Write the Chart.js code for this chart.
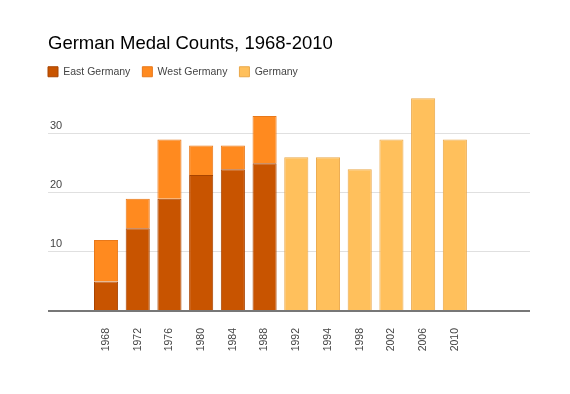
<!DOCTYPE html>
<html>
<head>
<meta charset="utf-8">
<script src="https://cdn.jsdelivr.net/npm/chart.js@4"></script>
<style>
  body { margin: 0; background: #fff; }
  canvas { display: block; }
</style>
</head>
<body>
<canvas id="chart" width="570" height="394"></canvas>
<script>
const years = ['1968', '1972', '1976', '1980', '1984', '1988', '1992', '1994', '1998', '2002', '2006', '2010'];
const eastGermany = [5, 14, 19, 23, 24, 25, null, null, null, null, null, null];
const westGermany = [7, 5, 10, 5, 4, 8, null, null, null, null, null, null];
const germany = [null, null, null, null, null, null, 26, 26, 24, 29, 36, 29];
const yTicks = [0, 10, 20, 30];

const font = "'Liberation Sans', Arial, sans-serif";

const toPoints = values => values.map((v, i) => ({ x: i, y: v }));

// pull the legend back to the title's left edge
const legendShift = {
    id: 'legendShift',
    afterLayout(chart) {
        chart.legend.left -= 12;
        chart.legend.right -= 12;
    }
};

new Chart(document.getElementById('chart'), {
    type: 'bar',
    data: {
        datasets: [{
            label: 'East Germany',
            data: toPoints(eastGermany),
            backgroundColor: '#c85400',
            borderColor: '#a84400',
            borderWidth: 1
        }, {
            label: 'West Germany',
            data: toPoints(westGermany),
            backgroundColor: '#ff8a1f',
            borderColor: '#e8781a',
            borderWidth: 1
        }, {
            label: 'Germany',
            data: toPoints(germany),
            backgroundColor: '#ffc05c',
            borderColor: '#eaa84a',
            borderWidth: 1
        }]
    },
    options: {
        responsive: false,
        animation: false,
        barPercentage: 0.76,
        categoryPercentage: 1,
        layout: {
            padding: { left: 48, right: 40, top: 0, bottom: 0 }
        },
        scales: {
            x: {
                type: 'linear',
                stacked: true,
                offset: false,
                min: -1.83,
                max: 13.37,
                afterBuildTicks: scale => {
                    scale.ticks = years.map((_, i) => ({ value: i }));
                },
                afterFit: scale => {
                    scale.height = 83;
                },
                grid: { display: false },
                border: { display: false },
                ticks: {
                    autoSkip: false,
                    minRotation: 90,
                    maxRotation: 90,
                    padding: 9,
                    color: '#444',
                    font: { family: font, size: 10.5 },
                    callback: value => years[value]
                }
            },
            y: {
                stacked: true,
                min: 0,
                max: 37.9,
                afterBuildTicks: scale => {
                    scale.ticks = yTicks.map(v => ({ value: v }));
                },
                afterFit: scale => {
                    scale.width = 0;
                },
                border: { display: false },
                grid: {
                    drawTicks: false,
                    color: ctx => ctx.tick.value === 0 ? '#777' : '#e0e0e0',
                    lineWidth: ctx => ctx.tick.value === 0 ? 2 : 1
                },
                ticks: {
                    mirror: true,
                    padding: 2,
                    labelOffset: -8,
                    color: '#444',
                    font: { family: font, size: 11 },
                    callback: value => value === 0 ? '' : value
                }
            }
        },
        plugins: {
            title: {
                display: true,
                text: 'German Medal Counts, 1968-2010',
                align: 'start',
                color: '#000',
                font: { family: font, size: 18.5, weight: 'normal', lineHeight: 1 },
                padding: { top: 35, bottom: 1 }
            },
            legend: {
                align: 'start',
                maxHeight: 38,
                labels: {
                    boxWidth: 10,
                    boxHeight: 10,
                    padding: 12,
                    color: '#444',
                    font: { family: font, size: 10.5 }
                }
            },
            tooltip: { enabled: false }
        }
    },
    plugins: [legendShift]
});
</script>
</body>
</html>
